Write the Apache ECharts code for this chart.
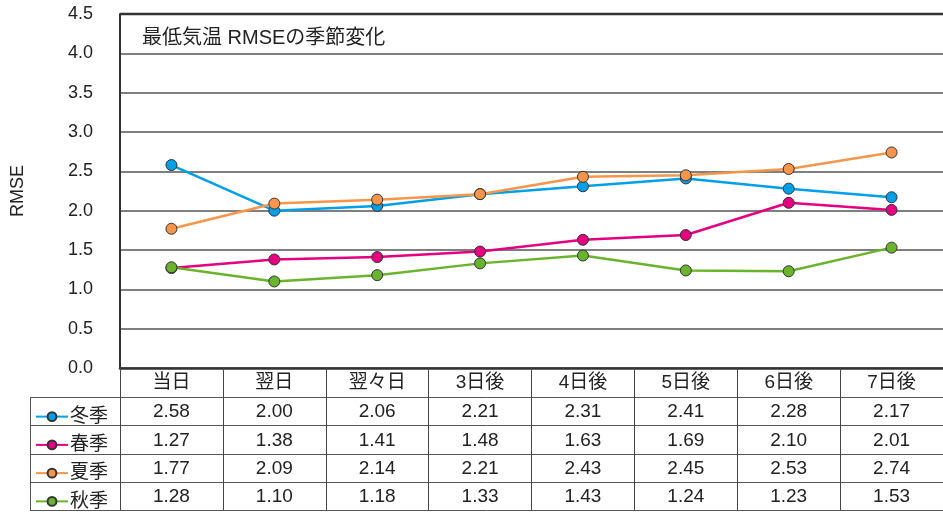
<!DOCTYPE html>
<html>
<head>
<meta charset="utf-8">
<script src="https://cdn.jsdelivr.net/npm/echarts@6/dist/echarts.min.js"></script>
<style>
  html, body { margin: 0; padding: 0; background: #fff; }
  #chart { width: 943px; height: 512px; }
</style>
</head>
<body>
<div id="chart"></div>
<script>
const FONT = "'Liberation Sans', 'Noto Sans CJK JP', sans-serif"

const categories = ['当日', '翌日', '翌々日', '3日後', '4日後', '5日後', '6日後', '7日後']
const seasons = ['冬季', '春季', '夏季', '秋季']
const winter = [2.58, 2.00, 2.06, 2.21, 2.31, 2.41, 2.28, 2.17]
const spring = [1.27, 1.38, 1.41, 1.48, 1.63, 1.69, 2.10, 2.01]
const summer = [1.77, 2.09, 2.14, 2.21, 2.43, 2.45, 2.53, 2.74]
const autumn = [1.28, 1.10, 1.18, 1.33, 1.43, 1.24, 1.23, 1.53]
const colors = ['#00a0e9', '#e4007f', '#f7964a', '#6ab42d']

const values = [winter, spring, summer, autumn]

const chart = echarts.init(document.getElementById('chart'))

// table geometry below the plot
const plotBottom = 368
const headerH = 29
const rowH = 28.25

const option = {
  animation: false,
  textStyle: { fontFamily: FONT },
  grid: { left: 120, right: 0, top: 14, bottom: 512 - plotBottom },
  title: {
    text: '最低気温 RMSEの季節変化',
    left: 137,
    top: 23,
    textStyle: { fontSize: 20, fontWeight: 'normal', color: '#222', fontFamily: FONT }
  },
  // one legend per table row so each sits in its own cell
  legend: seasons.map((name, i) => ({
    left: 30,
    top: plotBottom + headerH + rowH * i + rowH / 2 - 9,
    itemWidth: 32,
    itemHeight: 11,
    itemGap: 0,
    data: [name],
    textStyle: { fontSize: 19, color: '#222', padding: [0, 0, 0, -3] }
  })),
  xAxis: {
    type: 'category',
    data: categories,
    boundaryGap: true,
    axisLine: { lineStyle: { color: '#333', width: 2.5 } },
    axisTick: { show: true, alignWithLabel: false, length: 142, lineStyle: { color: '#444', width: 1 } },
    axisLabel: { fontSize: 19, color: '#222', margin: 5, interval: 0 }
  },
  yAxis: {
    type: 'value',
    min: 0,
    max: 4.5,
    interval: 0.5,
    name: 'RMSE',
    nameLocation: 'middle',
    nameGap: 93,
    nameTextStyle: { fontSize: 18, color: '#222' },
    axisLine: { show: true, lineStyle: { color: '#333', width: 2 } },
    axisTick: { show: false },
    axisLabel: { fontSize: 18, color: '#222', margin: 27, formatter: v => v.toFixed(1) },
    splitLine: { lineStyle: { color: '#555', width: 1.5 } }
  },
  series: seasons.map((name, i) => ({
    name,
    type: 'line',
    data: values[i],
    symbol: 'circle',
    symbolSize: 11,
    lineStyle: { color: colors[i], width: 2.5 },
    itemStyle: { color: colors[i], borderColor: '#333', borderWidth: 1 }
  }))
}

chart.setOption(option)

const graphic = []
const x0 = chart.convertToPixel({ xAxisIndex: 0 }, 0)
const x1 = chart.convertToPixel({ xAxisIndex: 0 }, 1)
const colW = x1 - x0
const yTop = chart.convertToPixel({ yAxisIndex: 0 }, 4.5)
const yBottom = chart.convertToPixel({ yAxisIndex: 0 }, 0)
const plotLeft = x0 - colW / 2

graphic.push({
  type: 'line', shape: { x1: plotLeft, y1: yTop, x2: 943, y2: yTop },
  style: { stroke: '#333', lineWidth: 2.5 }
})
graphic.push({
  type: 'line', shape: { x1: 30.5, y1: yBottom + headerH, x2: 30.5, y2: yBottom + headerH + rowH * 4 },
  style: { stroke: '#555', lineWidth: 1 }
})
for (let r = 0; r <= 4; r++) {
  const y = Math.round(yBottom + headerH + rowH * r) + 0.5
  graphic.push({
    type: 'line', shape: { x1: 30, y1: y, x2: 943, y2: y },
    style: { stroke: '#555', lineWidth: 1 }
  })
}
values.forEach((row, r) => {
  const yc = yBottom + headerH + rowH * r + rowH / 2 + 1
  row.forEach((v, c) => {
    graphic.push({
      type: 'text',
      x: chart.convertToPixel({ xAxisIndex: 0 }, c),
      y: yc,
      style: {
        text: v.toFixed(2), fontSize: 19, fontFamily: FONT, fill: '#222',
        align: 'center', verticalAlign: 'middle'
      }
    })
  })
})

chart.setOption({ graphic })
</script>
</body>
</html>
